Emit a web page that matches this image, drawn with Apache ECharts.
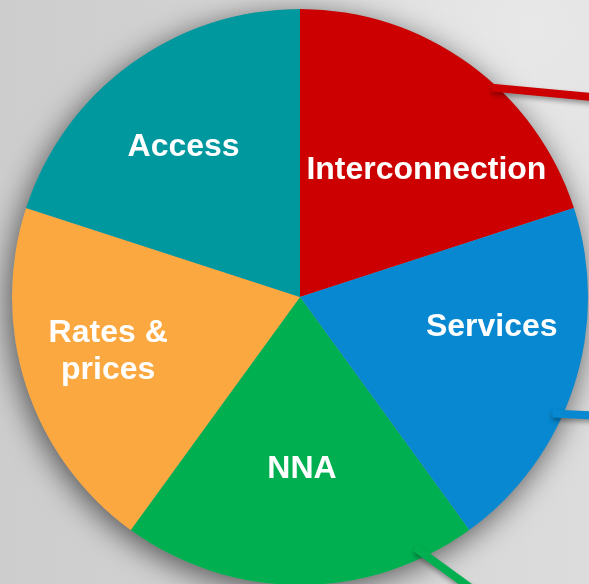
<!DOCTYPE html>
<html>
<head>
<meta charset="utf-8">
<script src="https://cdn.jsdelivr.net/npm/echarts@6/dist/echarts.min.js"></script>
<style>
  html, body { margin: 0; padding: 0; }
  #chart {
    width: 589px;
    height: 584px;
    background:
      radial-gradient(circle at 90% 5%, #e8e8e8 0%, rgba(232,232,232,0) 45%),
      linear-gradient(90deg, #cdcdcd 0%, #d5d5d5 55%, #dcdcdc 100%);
  }
</style>
</head>
<body>
<div id="chart"></div>
<script>
const categories = ['Interconnection', 'Services', 'NNA', 'Rates &\nprices', 'Access']
const shares = [20, 20, 20, 20, 20]

const sliceColors = ['#cc0000', '#0788d0', '#00b050', '#fba840', '#00989f']
// nudges from the default inside label spot
const labelOffsets = [[40, -8], [52, -15], [2, 25], [-52, 9], [-30, -31]]

const center = [300, 297]
const radius = 288

// callout lines leaving the pie edge: [angle on pie, start radius, heading, colour]
const callouts = [
  [47.5, 284, -5.4, '#cc0000'],
  [-24.8, 278, -2.5, '#0788d0'],
  [-65.3, 276, -36, '#00b050'],
]

const chart = echarts.init(document.getElementById('chart'))

function calloutGraphics() {
  return callouts.map(([a, r, dir, color]) => {
    const ar = a * Math.PI / 180
    const dr = dir * Math.PI / 180
    const x1 = center[0] + r * Math.cos(ar)
    const y1 = center[1] - r * Math.sin(ar)
    const len = 260
    return {
      type: 'line',
      z: 10,
      shape: { x1, y1, x2: x1 + len * Math.cos(dr), y2: y1 - len * Math.sin(dr) },
      style: {
        stroke: color,
        lineWidth: 8,
        shadowBlur: 5,
        shadowOffsetY: 3,
        shadowColor: 'rgba(0,0,0,0.35)',
      },
    }
  })
}

chart.setOption({
  backgroundColor: 'transparent',
  animation: false,
  graphic: calloutGraphics(),
  series: [
    {
      // shadow disc under the slices
      type: 'pie',
      silent: true,
      center,
      radius,
      z: 1,
      label: { show: false },
      labelLine: { show: false },
      itemStyle: {
        color: '#999',
        shadowBlur: 30,
        shadowOffsetX: -3,
        shadowOffsetY: 6,
        shadowColor: 'rgba(0,0,0,0.6)',
      },
      data: [shares.reduce((a, b) => a + b, 0)],
    },
    {
      type: 'pie',
      center,
      radius,
      z: 2,
      startAngle: 90,
      clockwise: true,
      silent: true,
      label: {
        show: true,
        position: 'inside',
        color: '#fff',
        fontFamily: 'Liberation Sans, Arial, sans-serif',
        fontWeight: 'bold',
        fontSize: 32,
        lineHeight: 37,
        align: 'center',
        formatter: '{b}',
      },
      labelLine: { show: false },
      itemStyle: { borderWidth: 0 },
      data: categories.map((name, i) => ({
        name,
        value: shares[i],
        itemStyle: { color: sliceColors[i] },
        label: { offset: labelOffsets[i] },
      })),
    },
  ],
})

window.addEventListener('resize', () => chart.resize())
</script>
</body>
</html>
